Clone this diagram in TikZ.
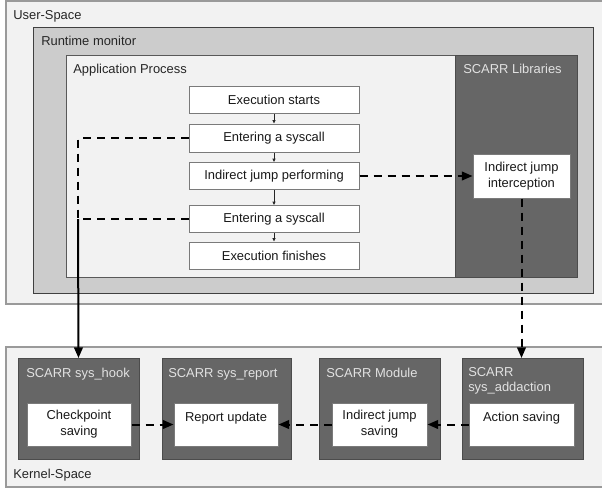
\documentclass[tikz,border=0pt]{standalone}
\usepackage{fontspec}
\setmainfont{Liberation Sans}
\usetikzlibrary{arrows.meta}
\definecolor{outerfill}{HTML}{F2F2F2}
\definecolor{outerline}{HTML}{9A9A9A}
\definecolor{rtfill}{HTML}{CCCCCC}
\definecolor{darkfill}{HTML}{666666}
\definecolor{lightlabel}{HTML}{E2E2E2}
\definecolor{boxline}{HTML}{7A7A7A}
\begin{document}
\begin{tikzpicture}[x=0.75pt,y=-0.75pt,
  font=\fontsize{9.7}{12}\selectfont,
  outerarea/.style={fill=outerfill,draw=outerline,line width=1.1pt},
  rtarea/.style={fill=rtfill,draw=black!75,line width=0.75pt},
  apparea/.style={fill=outerfill,draw=black!65,line width=0.75pt},
  darkarea/.style={fill=darkfill,draw=black!70,line width=0.75pt},
  whitebox/.style={fill=white,draw=boxline,line width=0.75pt,inner sep=0pt,align=center,text=black!90},
  flowbox/.style={whitebox,minimum width=127.5pt,minimum height=20.25pt},
  kbox/.style={whitebox,minimum height=32.25pt},
  dlabel/.style={anchor=base west,inner sep=0pt,text=lightlabel},
  alabel/.style={anchor=base west,inner sep=0pt,text=black!85},
  flowarrow/.style={line width=0.5pt,draw=black!85,-{Triangle[length=2.5pt,width=2.2pt]}},
  dasharrow/.style={line width=1.5pt,dash pattern=on 6pt off 4.5pt,-{Triangle[length=8pt,width=6.5pt]}},
  dashline/.style={line width=1.5pt,dash pattern=on 6pt off 4.5pt},
  solidarrow/.style={line width=1.5pt,-{Triangle[length=8pt,width=6.5pt]}}]
\useasboundingbox (0,0) rectangle (602,489);
% containers
\draw[outerarea] (6,1) rectangle (615,304);
\node[alabel] (uslabel) at (13,19) {User-Space};
\draw[rtarea] (33,27) rectangle (593,293);
\node[alabel] (rtlabel) at (41,45.7) {Runtime monitor};
\draw[apparea] (66,55) rectangle (577,277);
\node[alabel] (aplabel) at (73,73.3) {Application Process};
\draw[darkarea] (455,55) rectangle (577,277);
\node[dlabel] (liblabel) at (463,73.3) {SCARR Libraries};
\draw[outerarea] (6,347) rectangle (615,487);
\node[alabel] (kslabel) at (13,478) {Kernel-Space};
% kernel dark boxes
\draw[darkarea] (18,358) rectangle (139,459);
\node[dlabel] (hooklabel) at (26,377) {SCARR sys\_hook};
\draw[darkarea] (162,358) rectangle (291,459);
\node[dlabel] (replabel) at (168,377) {SCARR sys\_report};
\draw[darkarea] (319,358) rectangle (440,459);
\node[dlabel] (modlabel) at (326,377) {SCARR Module};
\draw[darkarea] (462,358) rectangle (583,459);
\node[dlabel,anchor=north west,align=left,font=\fontsize{9.7}{11.3}\selectfont] (addlabel) at (468,367.5) {SCARR\\sys\_addaction};
\coordinate (hooktop) at (78.5,358);
\coordinate (addtop) at (521.5,358);
% flow boxes
\node[flowbox] (start) at (274,99.5) {Execution starts};
\node[flowbox,minimum height=21pt] (sys1) at (274,138) {Entering a syscall};
\node[flowbox] (ijp) at (274,176) {Indirect jump performing};
\node[flowbox] (sys2) at (274,219) {Entering a syscall};
\node[flowbox] (fin) at (274,255.5) {Execution finishes};
\node[whitebox,minimum width=72.75pt,minimum height=33pt] (icpt) at (521.5,176) {Indirect jump\\interception};
% kernel inner boxes
\node[kbox,minimum width=78pt] (chk) at (79,424.5) {Checkpoint\\saving};
\node[kbox,minimum width=78pt] (rep) at (226,424.5) {Report update\\\mbox{}};
\node[kbox,minimum width=71.25pt] (ijs) at (379.5,424.5) {Indirect jump\\saving};
\node[kbox,minimum width=78.75pt] (act) at (521.5,424.5) {Action saving\\\mbox{}};
% flow arrows
\draw[flowarrow] (start) -- (sys1);
\draw[flowarrow] (sys1) -- (ijp);
\draw[flowarrow] (ijp) -- (sys2);
\draw[flowarrow] (sys2) -- (fin);
% connectors
\coordinate (junc) at (78,219);
\draw[dashline] (sys1.west) -- (78,138) -- (junc);
\draw[dashline] (sys2.west) -- (junc);
\draw[solidarrow] (junc) -- (hooktop);
\draw[dasharrow] (ijp.east) -- (icpt.west);
\draw[dasharrow] (icpt.south) -- (addtop);
\draw[dasharrow] (chk.east) -- (rep.west);
\draw[dasharrow] (act.west) -- (ijs.east);
\draw[dasharrow] (ijs.west) -- (rep.east);
\end{tikzpicture}
\end{document}
